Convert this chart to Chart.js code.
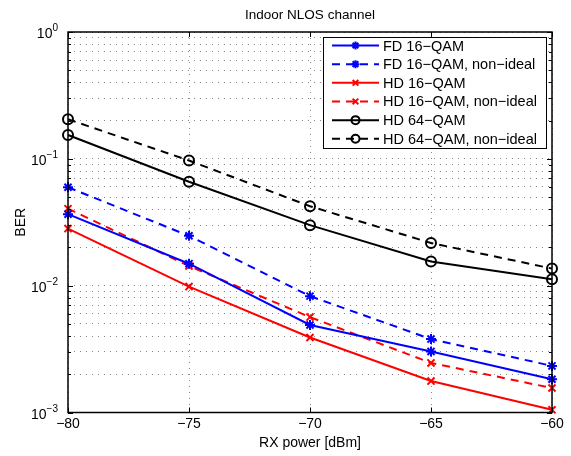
<!DOCTYPE html>
<html>
<head>
<meta charset="utf-8">
<script src="https://cdn.jsdelivr.net/npm/chart.js@4"></script>
<style>
  html, body { margin: 0; padding: 0; background: #fff; }
  #wrap { width: 571px; height: 456px; }
</style>
</head>
<body>
<div id="wrap"><canvas id="ber"></canvas></div>
<script>
// values
const rxPower = [-80, -75, -70, -65, -60];
const fd16 = [0.0366, 0.0149, 0.0049, 0.00303, 0.00183];
const fd16NonIdeal = [0.0597, 0.0247, 0.00827, 0.00379, 0.00233];
const hd16 = [0.0282, 0.00984, 0.0039, 0.00177, 0.00105];
const hd16NonIdeal = [0.0405, 0.0143, 0.00565, 0.00246, 0.00156];
const hd64 = [0.154, 0.066, 0.030, 0.0155, 0.01125];
const hd64NonIdeal = [0.205, 0.097, 0.0423, 0.0217, 0.01364];

const xTicks = [-80, -75, -70, -65, -60];
const yDecades = [-3, -2, -1, 0];

const FONT = '"Liberation Sans", Arial, sans-serif';

const mkSet = (label, vals, color, dashed, style) => ({
    label: label,
    data: rxPower.map((x, i) => ({ x: x, y: vals[i] })),
    borderColor: color,
    backgroundColor: style === 'circle' ? 'rgba(0,0,0,0)' : color,
    borderWidth: 2,
    borderDash: dashed ? [8, 6] : [],
    pointStyle: style,
    pointRadius: 5,
    pointBorderWidth: 2,
    pointBorderColor: color,
    pointBackgroundColor: style === 'circle' ? 'rgba(0,0,0,0)' : color,
    tension: 0,
    clip: false
});

const datasets = [
    mkSet('FD 16\u2212QAM', fd16, '#0000ff', false, 'star'),
    mkSet('FD 16\u2212QAM, non\u2212ideal', fd16NonIdeal, '#0000ff', true, 'star'),
    mkSet('HD 16\u2212QAM', hd16, '#ff0000', false, 'crossRot'),
    mkSet('HD 16\u2212QAM, non\u2212ideal', hd16NonIdeal, '#ff0000', true, 'crossRot'),
    mkSet('HD 64\u2212QAM', hd64, '#000000', false, 'circle'),
    mkSet('HD 64\u2212QAM, non\u2212ideal', hd64NonIdeal, '#000000', true, 'circle')
];

// frame, ticks, labels and legend, matlab style
const decor = {
    id: 'decor',
    afterDatasetsDraw(chart) {
        const ctx = chart.ctx;
        const a = chart.chartArea;
        const xs = chart.scales.x, ys = chart.scales.y;
        ctx.save();
        ctx.strokeStyle = '#000';
        ctx.lineWidth = 1.5;
        ctx.setLineDash([]);
        ctx.strokeRect(a.left, a.top, a.right - a.left, a.bottom - a.top);

        // inward ticks
        ctx.lineWidth = 1;
        ctx.beginPath();
        xTicks.forEach(v => {
            const px = Math.round(xs.getPixelForValue(v)) + 0.5;
            ctx.moveTo(px, a.bottom); ctx.lineTo(px, a.bottom - 5);
            ctx.moveTo(px, a.top); ctx.lineTo(px, a.top + 5);
        });
        yDecades.forEach(d => {
            for (let m = 1; m <= 9; m++) {
                const v = m * Math.pow(10, d);
                if (v > 1) continue;
                const py = Math.round(ys.getPixelForValue(v)) + 0.5;
                const len = m === 1 ? 5 : 3;
                ctx.moveTo(a.left, py); ctx.lineTo(a.left + len, py);
                ctx.moveTo(a.right, py); ctx.lineTo(a.right - len, py);
            }
        });
        ctx.stroke();

        // tick labels
        ctx.fillStyle = '#000';
        ctx.font = '14px ' + FONT;
        ctx.textAlign = 'center';
        ctx.textBaseline = 'top';
        xTicks.forEach(v => {
            ctx.fillText(String(v).replace('-', '\u2212'), xs.getPixelForValue(v), a.bottom + 5);
        });
        yDecades.forEach(d => {
            const py = ys.getPixelForValue(Math.pow(10, d));
            const sup = d === 0 ? '0' : '\u2212' + (-d);
            ctx.font = '10px ' + FONT;
            const sw = ctx.measureText(sup).width;
            ctx.textAlign = 'left';
            ctx.textBaseline = 'alphabetic';
            ctx.fillText(sup, a.left - 10 - sw, py - 1);
            ctx.font = '14px ' + FONT;
            ctx.textAlign = 'right';
            ctx.fillText('10', a.left - 10 - sw, py + 6);
        });

        // title and axis names
        ctx.font = '13.5px ' + FONT;
        ctx.textAlign = 'center';
        ctx.textBaseline = 'alphabetic';
        ctx.fillText('Indoor NLOS channel', (a.left + a.right) / 2, 19);
        ctx.font = '14px ' + FONT;
        ctx.fillText('RX power [dBm]', (a.left + a.right) / 2, 447);
        ctx.save();
        ctx.translate(25, (a.top + a.bottom) / 2);
        ctx.rotate(-Math.PI / 2);
        ctx.fillText('BER', 0, 0);
        ctx.restore();

        // legend box
        const lx = 323, ly = 37.5, lw = 223, lh = 111;
        ctx.fillStyle = '#fff';
        ctx.fillRect(lx, ly, lw, lh);
        ctx.strokeStyle = '#000';
        ctx.lineWidth = 1;
        ctx.strokeRect(lx + 0.5, ly, lw, lh);
        chart.data.datasets.forEach((ds, i) => {
            const y = ly + 8 + i * 18.66;
            ctx.strokeStyle = ds.borderColor;
            ctx.lineWidth = 2;
            ctx.setLineDash(ds.borderDash);
            ctx.beginPath();
            ctx.moveTo(lx + 9, y); ctx.lineTo(lx + 56, y);
            ctx.stroke();
            ctx.setLineDash([]);
            ctx.fillStyle = ds.pointBackgroundColor;
            Chart.helpers.drawPoint(ctx, {
                pointStyle: ds.pointStyle, radius: 4, rotation: 0, borderWidth: 2
            }, lx + 32.5, y);
            ctx.fillStyle = '#000';
            ctx.font = '14.5px ' + FONT;
            ctx.textAlign = 'left';
            ctx.textBaseline = 'middle';
            ctx.fillText(ds.label, lx + 60, y + 1);
        });
        ctx.restore();
    }
};

new Chart(document.getElementById('ber'), {
    type: 'line',
    data: { datasets: datasets },
    options: {
        responsive: true,
        maintainAspectRatio: false,
        animation: false,
        devicePixelRatio: 1,
        layout: { padding: { left: 0, right: 19, top: 32, bottom: 0 } },
        plugins: {
            legend: { display: false },
            tooltip: { enabled: false }
        },
        scales: {
            x: {
                type: 'linear',
                min: -80,
                max: -60,
                afterBuildTicks: s => { s.ticks = xTicks.map(v => ({ value: v })); },
                afterFit: s => { s.height = 43.5; },
                ticks: { display: false },
                border: { display: false, dash: [1, 5] },
                grid: { drawTicks: false, color: '#8a8a8a', lineWidth: 1 }
            },
            y: {
                type: 'logarithmic',
                min: 0.001,
                max: 1,
                afterBuildTicks: s => {
                    const t = [];
                    yDecades.forEach(d => {
                        for (let m = 1; m <= 9; m++) {
                            const v = m * Math.pow(10, d);
                            if (v <= 1) t.push({ value: v });
                        }
                    });
                    s.ticks = t;
                },
                afterFit: s => { s.width = 68; },
                ticks: { display: false },
                border: { display: false, dash: [1, 5] },
                grid: { drawTicks: false, color: '#8a8a8a', lineWidth: 1 }
            }
        }
    },
    plugins: [decor]
});
</script>
</body>
</html>
